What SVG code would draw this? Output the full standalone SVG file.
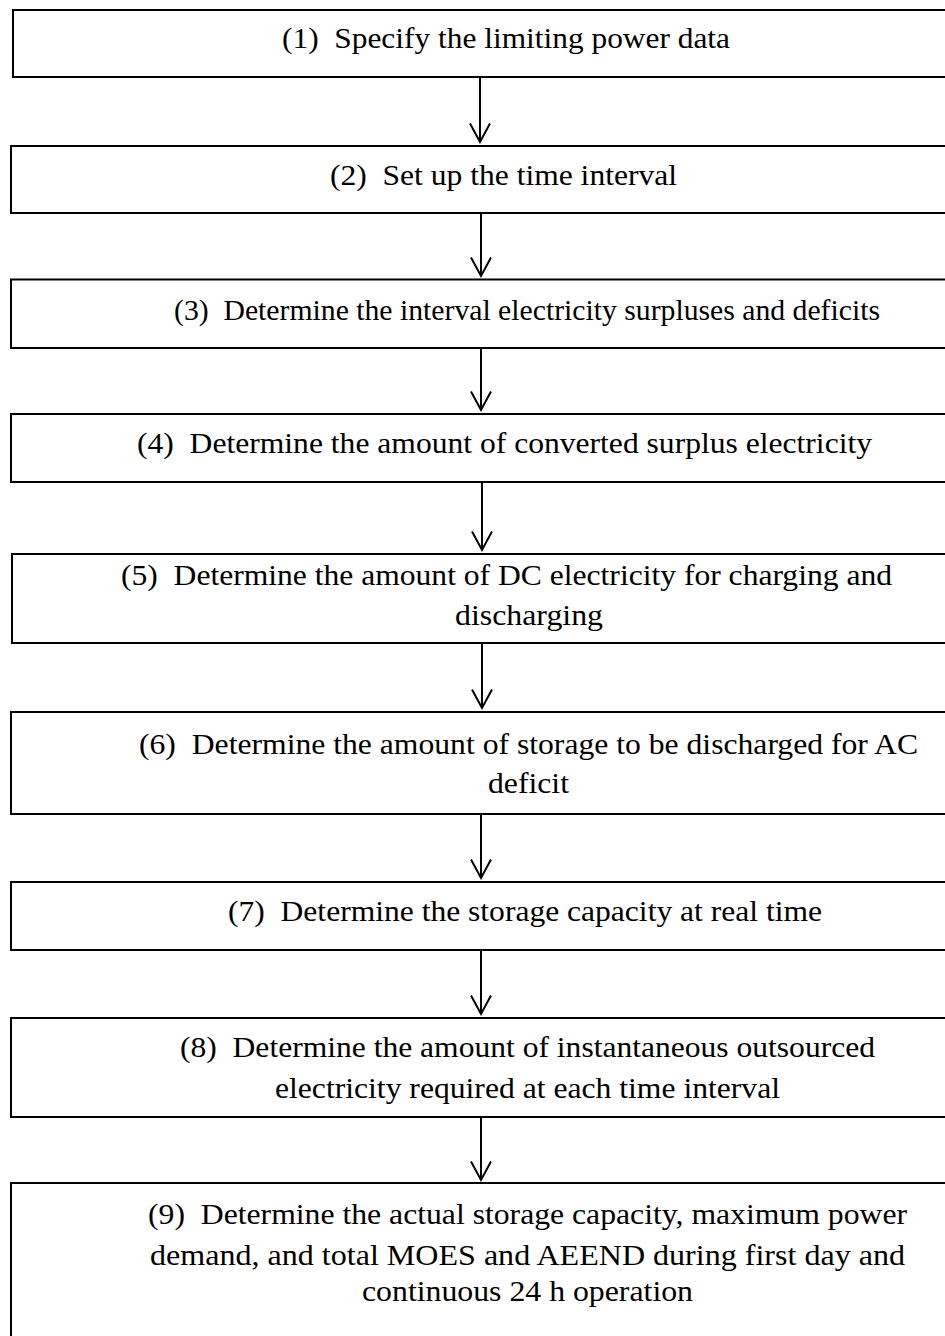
<svg xmlns="http://www.w3.org/2000/svg" width="945" height="1336" viewBox="0 0 945 1336">
<style>
.box{fill:#fff;stroke:#000;stroke-width:2}
.t{font-family:"Liberation Serif","Times New Roman",serif;font-size:30px;fill:#000}
.c{stroke:#000;stroke-width:2;fill:none}
</style>
<defs>
<marker id="ah" markerUnits="userSpaceOnUse" orient="auto" refX="0" refY="0" markerWidth="40" markerHeight="40" overflow="visible">
<path d="M-18.5,-10 L0,0 L-18.5,10" fill="none" stroke="#000" stroke-width="2"/>
</marker>
</defs>
<rect width="945" height="1336" fill="#fff"/>
<g id="n1"><rect class="box" x="13" y="10" width="960" height="67"/>
<text class="t" x="282" y="48" textLength="448" lengthAdjust="spacingAndGlyphs">(1)&#160; Specify the limiting power data</text></g>
<g id="n2"><rect class="box" x="11" y="146" width="960" height="67"/>
<text class="t" x="330" y="185" textLength="347" lengthAdjust="spacingAndGlyphs">(2)&#160; Set up the time interval</text></g>
<g id="n3"><rect class="box" x="11" y="279.5" width="960" height="68.5"/>
<text class="t" x="174" y="320" textLength="706" lengthAdjust="spacingAndGlyphs">(3)&#160; Determine the interval electricity surpluses and deficits</text></g>
<g id="n4"><rect class="box" x="11" y="414" width="960" height="68"/>
<text class="t" x="137" y="453" textLength="735" lengthAdjust="spacingAndGlyphs">(4)&#160; Determine the amount of converted surplus electricity</text></g>
<g id="n5"><rect class="box" x="12" y="554" width="960" height="89"/>
<text class="t" x="121" y="585" textLength="771" lengthAdjust="spacingAndGlyphs">(5)&#160; Determine the amount of DC electricity for charging and</text>
<text class="t" x="455" y="625" textLength="148" lengthAdjust="spacingAndGlyphs">discharging</text></g>
<g id="n6"><rect class="box" x="11" y="712" width="960" height="102"/>
<text class="t" x="139" y="754" textLength="779" lengthAdjust="spacingAndGlyphs">(6)&#160; Determine the amount of storage to be discharged for AC</text>
<text class="t" x="488" y="793" textLength="81" lengthAdjust="spacingAndGlyphs">deficit</text></g>
<g id="n7"><rect class="box" x="11" y="882" width="960" height="68"/>
<text class="t" x="228" y="921" textLength="594" lengthAdjust="spacingAndGlyphs">(7)&#160; Determine the storage capacity at real time</text></g>
<g id="n8"><rect class="box" x="11" y="1018" width="960" height="99"/>
<text class="t" x="180" y="1057" textLength="695" lengthAdjust="spacingAndGlyphs">(8)&#160; Determine the amount of instantaneous outsourced</text>
<text class="t" x="275" y="1098" textLength="505" lengthAdjust="spacingAndGlyphs">electricity required at each time interval</text></g>
<g id="n9"><rect class="box" x="11" y="1183" width="960" height="200"/>
<text class="t" x="148" y="1224" textLength="759" lengthAdjust="spacingAndGlyphs">(9)&#160; Determine the actual storage capacity, maximum power</text>
<text class="t" x="150" y="1265" textLength="755" lengthAdjust="spacingAndGlyphs">demand, and total MOES and AEEND during first day and</text>
<text class="t" x="362" y="1301" textLength="331" lengthAdjust="spacingAndGlyphs">continuous 24 h operation</text></g>
<g id="connectors">
<line class="c" x1="480" y1="78" x2="480" y2="142" marker-end="url(#ah)"/>
<line class="c" x1="481" y1="214" x2="481" y2="276" marker-end="url(#ah)"/>
<line class="c" x1="481" y1="349" x2="481" y2="410" marker-end="url(#ah)"/>
<line class="c" x1="482" y1="483" x2="482" y2="550" marker-end="url(#ah)"/>
<line class="c" x1="482" y1="644" x2="482" y2="708" marker-end="url(#ah)"/>
<line class="c" x1="481" y1="815" x2="481" y2="878" marker-end="url(#ah)"/>
<line class="c" x1="481" y1="951" x2="481" y2="1014" marker-end="url(#ah)"/>
<line class="c" x1="481" y1="1118" x2="481" y2="1180" marker-end="url(#ah)"/>
</g>
</svg>
